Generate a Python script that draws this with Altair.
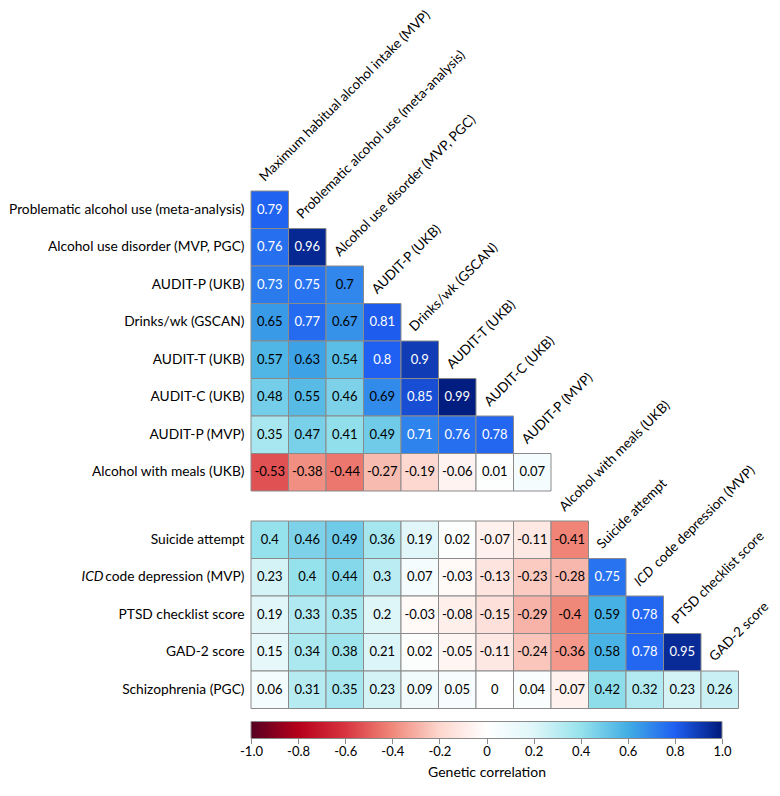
import altair as alt
import pandas as pd

# ---------------- data ----------------
COLS = [
    "Maximum habitual alcohol intake (MVP)",
    "Problematic alcohol use (meta-analysis)",
    "Alcohol use disorder (MVP, PGC)",
    "AUDIT-P (UKB)",
    "Drinks/wk (GSCAN)",
    "AUDIT-T (UKB)",
    "AUDIT-C (UKB)",
    "AUDIT-P (MVP)",
    "Alcohol with meals (UKB)",
    "Suicide attempt",
    "ICD code depression (MVP)",
    "PTSD checklist score",
    "GAD-2 score",
]

TOP_ROWS = [
    "Problematic alcohol use (meta-analysis)",
    "Alcohol use disorder (MVP, PGC)",
    "AUDIT-P (UKB)",
    "Drinks/wk (GSCAN)",
    "AUDIT-T (UKB)",
    "AUDIT-C (UKB)",
    "AUDIT-P (MVP)",
    "Alcohol with meals (UKB)",
]
TOP_VALUES = [
    [0.79],
    [0.76, 0.96],
    [0.73, 0.75, 0.7],
    [0.65, 0.77, 0.67, 0.81],
    [0.57, 0.63, 0.54, 0.8, 0.9],
    [0.48, 0.55, 0.46, 0.69, 0.85, 0.99],
    [0.35, 0.47, 0.41, 0.49, 0.71, 0.76, 0.78],
    [-0.53, -0.38, -0.44, -0.27, -0.19, -0.06, 0.01, 0.07],
]

BOTTOM_ROWS = [
    "Suicide attempt",
    "ICD code depression (MVP)",
    "PTSD checklist score",
    "GAD-2 score",
    "Schizophrenia (PGC)",
]
BOTTOM_VALUES = [
    [0.4, 0.46, 0.49, 0.36, 0.19, 0.02, -0.07, -0.11, -0.41],
    [0.23, 0.4, 0.44, 0.3, 0.07, -0.03, -0.13, -0.23, -0.28, 0.75],
    [0.19, 0.33, 0.35, 0.2, -0.03, -0.08, -0.15, -0.29, -0.4, 0.59, 0.78],
    [0.15, 0.34, 0.38, 0.21, 0.02, -0.05, -0.11, -0.24, -0.36, 0.58, 0.78, 0.95],
    [0.06, 0.31, 0.35, 0.23, 0.09, 0.05, 0, 0.04, -0.07, 0.42, 0.32, 0.23, 0.26],
]

ITALIC_PREFIX = "ICD"  # set in italics wherever a label starts with it

COLORBAR_TICKS = [-1.0, -0.8, -0.6, -0.4, -0.2, 0, 0.2, 0.4, 0.6, 0.8, 1.0]
SCALE_DOMAIN = [-1.0, -0.8, -0.6, -0.4, -0.2, 0, 0.2, 0.4, 0.6, 0.8, 1.0]
SCALE_COLORS = [
    "#560021", "#b6001b", "#d8343f", "#f0887a", "#fdd6cd", "#ffffff",
    "#dff6f9", "#96e2ec", "#42aee4", "#1f5ff2", "#001a7a",
]

# ---------------- styling ----------------
FONT = "Lato"
ROW_LABEL_SIZE = 13.75
COL_LABEL_SIZE = 13.5
VALUE_SIZE = 13
STEP = 37.5
GRID = "#8a8a8a"
LABEL_PAD = 7
PREFIX_SHIFT = 27       # width of the italic prefix plus a space (column labels)
REST_WIDTH = 136.5      # width of the upright remainder of the row label
NO_VIEW = alt.ViewBackground(stroke="transparent", strokeWidth=0, strokeOpacity=0)


def cell_table(rows, values):
    recs = []
    for r, vals in zip(rows, values):
        for c, v in zip(COLS, vals):
            recs.append({"row": r, "col": c, "r": v, "txt": f"{v:g}"})
    return pd.DataFrame(recs)


def split(label):
    if label.startswith(ITALIC_PREFIX + " "):
        return ITALIC_PREFIX, label[len(ITALIC_PREFIX) + 1:]
    return "", label


def label_table(rows, cols):
    recs = []
    for r, c in zip(rows, cols):
        pre, rest = split(c)
        recs.append({"row": r, "col": c, "pre": pre, "rest": rest})
    return pd.DataFrame(recs)


cscale = alt.Scale(domain=SCALE_DOMAIN, range=SCALE_COLORS, interpolate="rgb")

Y_AXIS = alt.Axis(
    title=None, domain=False, ticks=False, grid=False, labelFont=FONT,
    labelFontSize=ROW_LABEL_SIZE, labelColor="black", labelPadding=LABEL_PAD,
    labelLimit=0,
    labelExpr=f"indexof(datum.value, '{ITALIC_PREFIX} ') == 0 ? "
              f"substring(datum.value, {len(ITALIC_PREFIX) + 1}) : datum.value",
)


def block(rows, values, cols, label_rows, label_cols):
    cells = cell_table(rows, values)
    labs = label_table(label_rows, label_cols)
    xs = alt.Scale(domain=cols, paddingInner=0, paddingOuter=0)
    ys = alt.Scale(domain=rows, paddingInner=0, paddingOuter=0)
    x = alt.X("col:N", scale=xs, axis=None)
    y = alt.Y("row:N", scale=ys, axis=Y_AXIS)
    ytop = alt.Y("row:N", scale=ys, bandPosition=0, axis=Y_AXIS)
    rect = alt.Chart(cells).mark_rect(stroke=GRID, strokeWidth=1).encode(
        x=x, y=y, color=alt.Color("r:Q", scale=cscale, legend=None)
    )
    text = alt.Chart(cells).mark_text(font=FONT, fontSize=VALUE_SIZE).encode(
        x=x, y=y, text="txt:N",
        color=alt.condition(alt.datum.r > 0.7, alt.value("white"), alt.value("black")),
    )
    lab_style = dict(
        font=FONT, fontSize=COL_LABEL_SIZE, angle=315, align="left",
        baseline="alphabetic", xOffset=-5, yOffset=-9, color="black",
    )
    plain = alt.Chart(labs).transform_filter("datum.pre == ''").mark_text(
        **lab_style
    ).encode(x=x, y=ytop, text="rest:N")
    pre = alt.Chart(labs).transform_filter("datum.pre != ''").mark_text(
        fontStyle="italic", **lab_style
    ).encode(x=x, y=ytop, text="pre:N")
    rest = alt.Chart(labs).transform_filter("datum.pre != ''").mark_text(
        dx=PREFIX_SHIFT, **lab_style
    ).encode(x=x, y=ytop, text="rest:N")
    layers = [rect, text, plain, pre, rest]
    # italic prefixes of row labels
    row_pre = pd.DataFrame(
        [{"row": r, "pre": split(r)[0]} for r in rows if split(r)[0]]
    )
    if len(row_pre):
        layers.append(
            alt.Chart(row_pre).mark_text(
                font=FONT, fontSize=ROW_LABEL_SIZE, fontStyle="italic", align="right",
                baseline="middle", color="black",
            ).encode(
                x=alt.value(-LABEL_PAD - REST_WIDTH - 4), y=y, text="pre:N"
            )
        )
    return alt.layer(*layers)


top = block(TOP_ROWS, TOP_VALUES, COLS[:8], TOP_ROWS, COLS[:8]).properties(
    width=8 * STEP, height=8 * STEP, view=NO_VIEW
)

bottom_heat = block(BOTTOM_ROWS, BOTTOM_VALUES, COLS, BOTTOM_ROWS, COLS[8:])

# colour bar drawn from the same colour stops as the scale
lo, hi = SCALE_DOMAIN[0], SCALE_DOMAIN[-1]
cb_df = pd.DataFrame({"lo": [lo], "hi": [hi]})
grad = alt.LinearGradient(
    gradient="linear",
    stops=[alt.GradientStop(offset=(d - lo) / (hi - lo), color=c)
           for d, c in zip(SCALE_DOMAIN, SCALE_COLORS)],
    x1=0, x2=1, y1=0, y2=0,
)
BH = 5 * STEP
colorbar = alt.Chart(cb_df).mark_rect(fill=grad, stroke=GRID, strokeWidth=1).encode(
    x=alt.X(
        "lo:Q",
        scale=alt.Scale(domain=[lo, hi], range=[0, 471], nice=False, zero=False),
        axis=alt.Axis(
            values=COLORBAR_TICKS, offset=30, domain=False, grid=False, tickSize=5,
            tickColor=GRID, labelFont=FONT, labelFontSize=13, labelColor="black",
            labelPadding=2, labelFlush=False,
            labelExpr="datum.value == 0 ? '0' : replace(format(datum.value, '.1f'), '\u2212', '-')",
            title="Genetic correlation", titleFont=FONT, titleFontSize=14,
            titleFontWeight="normal", titleColor="black", titlePadding=7,
        ),
    ),
    x2="hi:Q",
    y=alt.value(BH + 13),
    y2=alt.value(BH + 30),
)

bottom = alt.layer(bottom_heat, colorbar).resolve_scale(x="independent").properties(
    width=13 * STEP, height=BH, view=NO_VIEW
)

chart = alt.vconcat(top, bottom, spacing=30, bounds="flush").configure(
    padding={"top": 0, "left": 0, "right": 0, "bottom": 0},
    view=alt.ViewConfig(stroke="transparent", strokeWidth=0, strokeOpacity=0),
    style={"cell": {"stroke": "transparent", "strokeWidth": 0, "strokeOpacity": 0}},
)

chart.save("out.html", embed_options={"renderer": "svg", "actions": False})
